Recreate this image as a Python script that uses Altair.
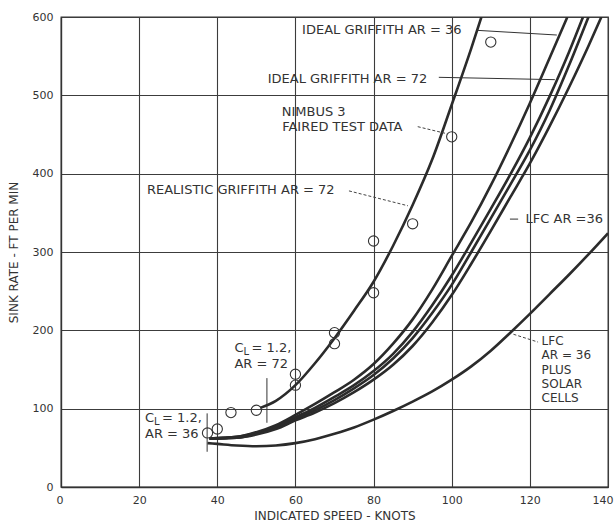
import altair as alt
import pandas as pd

# ---- sink-rate polars: indicated speed (knots) vs sink rate (ft/min) ----
ideal36_kt = [38, 45, 50, 55, 60, 65, 70, 75, 80, 85, 90, 95, 100, 105, 110, 115, 120, 125, 129.6]
ideal36_fpm = [62, 64, 70, 79, 92, 106, 121, 137, 157, 183, 214, 252, 295, 338, 385, 436, 490, 547, 600]

ideal72_kt = [38, 45, 50, 55, 60, 65, 70, 75, 80, 85, 90, 95, 100, 105, 110, 115, 120, 125, 130, 133.6]
ideal72_fpm = [62, 64, 69, 77, 89, 101, 115, 130, 148, 170, 198, 232, 270, 312, 355, 399, 446, 498, 555, 600]

griffith_c_kt = [38, 45, 50, 55, 60, 65, 70, 75, 80, 85, 90, 95, 100, 105, 110, 115, 120, 125, 130, 135]
griffith_c_fpm = [62, 63, 68, 76, 87, 98, 111, 126, 143, 164, 190, 222, 258, 300, 343, 386, 430, 480, 538, 600]

lfc36_kt = [38, 45, 50, 55, 60, 65, 70, 75, 80, 85, 90, 95, 100, 105, 110, 115, 120, 125, 130, 135, 138.3]
lfc36_fpm = [62, 63, 67, 74, 85, 95, 107, 121, 137, 156, 180, 210, 245, 285, 327, 370, 413, 460, 510, 563, 600]

solar_kt = [37.5, 40, 45, 50, 55, 60, 65, 70, 75, 80, 85, 90, 95, 100, 105, 110, 115, 120, 125, 130, 135, 140]
solar_fpm = [56, 55, 53, 52, 53, 56, 61, 68, 76, 86, 97, 109, 122, 137, 154, 174, 197, 221, 246, 271, 297, 324]

realistic72_kt = [51, 55, 60, 65, 70, 75, 80, 85, 90, 95, 100, 105, 107.6]
realistic72_fpm = [101, 110, 130, 158, 190, 225, 262, 308, 360, 418, 488, 560, 600]

# Nimbus 3 faired test data
nimbus_kt = [37.5, 40, 43.5, 50, 60, 60, 70, 70, 80, 80, 90, 100, 110]
nimbus_fpm = [69, 74, 95, 98, 144, 130, 197, 183, 314, 248, 336, 447, 568]

curve_names = ["Ideal Griffith AR 36", "Ideal Griffith AR 72", "Griffith C",
               "LFC AR 36", "LFC AR 36 solar", "Realistic Griffith AR 72"]
curve_data = [(ideal36_kt, ideal36_fpm), (ideal72_kt, ideal72_fpm),
              (griffith_c_kt, griffith_c_fpm), (lfc36_kt, lfc36_fpm),
              (solar_kt, solar_fpm), (realistic72_kt, realistic72_fpm)]
curve_widths = [2.6, 2.6, 2.4, 2.4, 2.3, 1.4]

rows = []
for name, (xs, ys) in zip(curve_names, curve_data):
    for i, (x, y) in enumerate(zip(xs, ys)):
        rows.append({"curve": name, "order": i, "kt": x, "fpm": y})
curves_df = pd.DataFrame(rows)
points_df = pd.DataFrame({"kt": nimbus_kt, "fpm": nimbus_fpm})

# ---- annotations (positions in data units) ----
label_text = ["IDEAL GRIFFITH AR = 36", "IDEAL GRIFFITH AR = 72", "NIMBUS 3",
              "FAIRED TEST DATA", "REALISTIC GRIFFITH AR = 72", "LFC AR =36",
              "AR = 72", "AR = 36"]
label_kt = [61.7, 52.9, 56.5, 56.6, 22.0, 118.9, 44.4, 21.5]
label_fpm = [584, 521, 479, 460, 379, 342, 157, 68]
labels_df = pd.DataFrame({"kt": label_kt, "fpm": label_fpm, "label": label_text})

solar_text = ["LFC", "AR = 36", "PLUS", "SOLAR", "CELLS"]
solar_label_kt = [123.0] * 5
solar_label_fpm = [186, 168, 150, 132, 114]
solar_labels_df = pd.DataFrame({"kt": solar_label_kt, "fpm": solar_label_fpm, "label": solar_text})

cl_kt = [44.4, 21.5]
cl_fpm = [177, 88]
cl_df = pd.DataFrame({"kt": cl_kt, "fpm": cl_fpm})

lead_kt = [106.4, 96.7, 114.9, 52.7, 37.4]
lead_fpm = [583, 523, 342, 82, 45]
lead_kt2 = [126.9, 126.4, 117.0, 52.7, 37.4]
lead_fpm2 = [577, 520, 342, 139, 94]
solid_df = pd.DataFrame({"kt": lead_kt, "fpm": lead_fpm, "kt2": lead_kt2, "fpm2": lead_fpm2})

dash_kt = [91.3, 73.7, 115.8]
dash_fpm = [460, 378, 195]
dash_kt2 = [98.8, 88.8, 122.1]
dash_fpm2 = [451, 359, 185]
dashed_df = pd.DataFrame({"kt": dash_kt, "fpm": dash_fpm, "kt2": dash_kt2, "fpm2": dash_fpm2})

INK = "#2b2b2b"
FONT = "DejaVu Sans"


def xenc():
    return alt.X("kt:Q", scale=alt.Scale(domain=[0, 140], nice=False, zero=False),
                 axis=alt.Axis(values=list(range(0, 141, 20)), title="INDICATED SPEED - KNOTS",
                               grid=True, tickSize=0, labelPadding=7, titlePadding=5,
                               labelFlush=True, labelFlushOffset=5))


def yenc():
    return alt.Y("fpm:Q", scale=alt.Scale(domain=[0, 600], nice=False),
                 axis=alt.Axis(values=list(range(0, 601, 100)), title="SINK RATE - FT PER MIN",
                               grid=True, tickSize=0, labelPadding=8, titlePadding=12))


lines = alt.Chart(curves_df).mark_line(interpolate="monotone", clip=True).encode(
    x=xenc(), y=yenc(), order="order:Q",
    detail="curve:N",
    color=alt.Color("curve:N", scale=alt.Scale(domain=curve_names, range=[INK] * 6), legend=None),
    strokeWidth=alt.StrokeWidth("curve:N", scale=alt.Scale(domain=curve_names, range=curve_widths),
                                legend=None),
)

points = alt.Chart(points_df).mark_point(shape="circle", filled=False, size=105,
                                         stroke="#333", strokeWidth=1.1, opacity=1).encode(
    x=xenc(), y=yenc())

solid = alt.Chart(solid_df).mark_rule(color="#333", strokeWidth=1.0).encode(
    x=xenc(), y=yenc(), x2="kt2:Q", y2="fpm2:Q")

dashed = alt.Chart(dashed_df).mark_rule(color="#444", strokeWidth=1.0, strokeDash=[3, 2]).encode(
    x=xenc(), y=yenc(), x2="kt2:Q", y2="fpm2:Q")

texts = alt.Chart(labels_df).mark_text(align="left", baseline="middle", font=FONT,
                                       fontSize=13, color="#333").encode(
    x=xenc(), y=yenc(), text="label:N")

solar_texts = alt.Chart(solar_labels_df).mark_text(align="left", baseline="middle", font=FONT,
                                                   fontSize=12, color="#333").encode(
    x=xenc(), y=yenc(), text="label:N")

cl_c = alt.Chart(cl_df).mark_text(align="left", baseline="middle", font=FONT,
                                  fontSize=13, color="#333").encode(
    x=xenc(), y=yenc(), text=alt.value("C"))
cl_sub = alt.Chart(cl_df).mark_text(align="left", baseline="middle", font=FONT,
                                    fontSize=10, color="#333", dx=9, dy=4).encode(
    x=xenc(), y=yenc(), text=alt.value("L"))
cl_rest = alt.Chart(cl_df).mark_text(align="left", baseline="middle", font=FONT,
                                     fontSize=13, color="#333", dx=17).encode(
    x=xenc(), y=yenc(), text=alt.value("= 1.2,"))

chart = alt.layer(lines, points, solid, dashed, texts, solar_texts, cl_c, cl_sub, cl_rest).properties(
    width=547, height=470,
    autosize=alt.AutoSizeParams(type="none"),
    padding={"left": 61, "top": 17, "right": 7, "bottom": 38},
    background="white",
).configure_view(
    stroke="#333", strokeWidth=1.3
).configure_axis(
    gridColor="#3c3c3c", gridWidth=1.1, gridOpacity=1,
    domainColor="#333", domainWidth=1.3,
    labelFont=FONT, labelFontSize=11, labelColor="#333",
    titleFont=FONT, titleFontSize=12, titleFontWeight="normal", titleColor="#333",
)

chart.save("out.html", embed_options={"renderer": "svg", "actions": False})
